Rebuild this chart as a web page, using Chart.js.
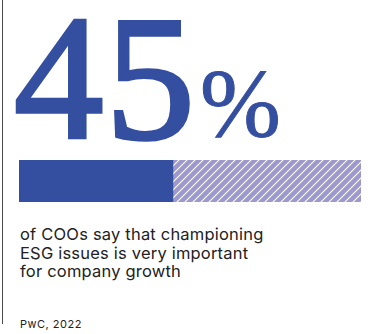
<!DOCTYPE html>
<html>
<head>
<meta charset="utf-8">
<script src="https://cdn.jsdelivr.net/npm/chart.js@4"></script>
<style>
  html, body { margin: 0; padding: 0; background: #ffffff; }
  body { width: 370px; height: 334px; position: relative; overflow: hidden; }
  #rule { position: absolute; left: 2px; top: 0; width: 1px; height: 324px; background: #4a4a4a; }
  #big { position: absolute; left: 14px; top: 2.6px; font-family: "Liberation Serif", serif; font-size: 179px; line-height: 150px; color: #354fa0; white-space: nowrap; -webkit-text-stroke: 3.5px #354fa0; letter-spacing: 2px; }
  #pct { position: absolute; left: 200px; top: 55px; font-family: "Liberation Serif", serif; font-size: 97px; line-height: 97px; color: #354fa0; white-space: nowrap; -webkit-text-stroke: 1px #354fa0; }
  #barbox { position: absolute; left: 19px; top: 160px; width: 342px; height: 42px; }
  #caption { position: absolute; left: 20px; top: 225px; font-family: "Inter", sans-serif; font-size: 16.5px; line-height: 18.7px; letter-spacing: 0.2px; color: #222222; white-space: nowrap; }
  #source { position: absolute; left: 20px; top: 318.5px; font-family: "Inter", sans-serif; font-size: 11px; line-height: 11px; letter-spacing: 0.5px; color: #222222; white-space: nowrap; }
</style>
</head>
<body>
<div id="rule"></div>
<div id="big"></div>
<div id="pct">%</div>
<div id="barbox"><canvas id="c"></canvas></div>
<div id="caption">of COOs say that championing<br>ESG issues is very important<br>for company growth</div>
<div id="source">PwC, 2022</div>
<script>
const categories = ["COOs"];
const agreeValues = [45];
const restValues = [55];

document.getElementById('big').textContent = String(agreeValues[0]);

function hatch() {
  const s = 8;
  const p = document.createElement('canvas');
  p.width = s; p.height = s;
  const g = p.getContext('2d');
  g.fillStyle = '#9d99cc';
  g.fillRect(0, 0, s, s);
  g.strokeStyle = '#ffffff';
  g.lineWidth = 1.1;
  g.beginPath();
  g.moveTo(0, s); g.lineTo(s, 0);
  g.moveTo(-s/2, s/2); g.lineTo(s/2, -s/2);
  g.moveTo(s/2, s + s/2); g.lineTo(s + s/2, s/2);
  g.stroke();
  return g.createPattern(p, 'repeat');
}

new Chart(document.getElementById('c'), {
  type: 'bar',
  data: {
    labels: categories,
    datasets: [
      { data: agreeValues, backgroundColor: '#354fa0', borderWidth: 0, categoryPercentage: 1, barPercentage: 1 },
      { data: restValues, backgroundColor: hatch(), borderWidth: 0, categoryPercentage: 1, barPercentage: 1 }
    ]
  },
  options: {
    indexAxis: 'y',
    responsive: true,
    maintainAspectRatio: false,
    animation: false,
    layout: { padding: 0 },
    plugins: { legend: { display: false }, tooltip: { enabled: false } },
    scales: {
      x: { stacked: true, min: 0, max: 100, display: false },
      y: { stacked: true, display: false }
    }
  }
});
</script>
</body>
</html>
